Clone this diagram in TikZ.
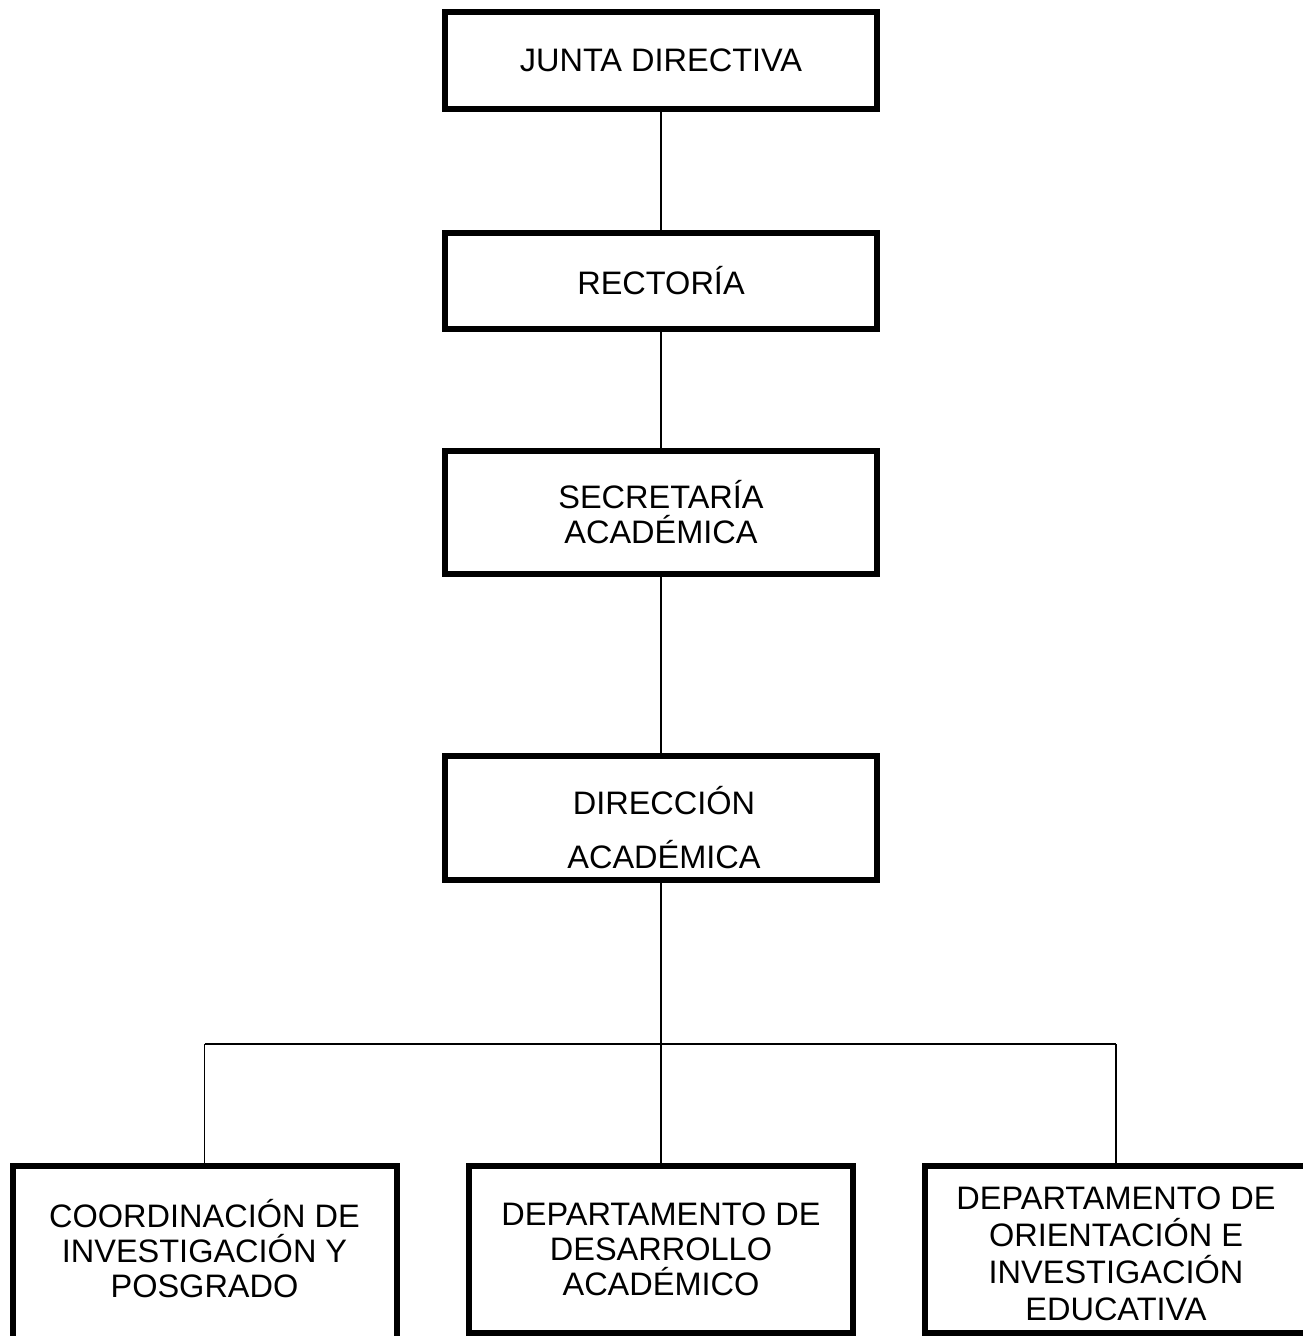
\documentclass[tikz,border=0pt]{standalone}
\usepackage{fontspec}
\setmainfont{Liberation Sans}
\begin{document}
\begin{tikzpicture}[x=1pt,y=-1pt,
  orgfont/.style={font=\fontsize{32.5}{35}\selectfont},
  orgbox/.style={draw=black,line width=6pt,fill=white,rectangle,inner sep=0pt,
    align=center,orgfont},
  orgtext/.style={align=center,inner sep=0pt,orgfont},
  link/.style={draw=black,line width=1.5pt}]
\useasboundingbox (0,0) rectangle (1303,1336);
\clip (0,0) rectangle (1303,1336);

% upper chain of offices
\node[orgbox,minimum width=432pt,minimum height=97pt] (jd) at (661,60.5) {JUNTA DIRECTIVA};
\node[orgbox,minimum width=432pt,minimum height=96pt] (rec) at (661,281) {RECTORÍA};
\node[orgbox,minimum width=432pt,minimum height=123pt] (sec) at (661,512.5) {SECRETARÍA\\ACADÉMICA};
\node[orgbox,minimum width=432pt,minimum height=124pt] (dir) at (661,818) {};
\node[orgtext] (dirtxt) at (664,828) {DIRECCIÓN\\[19pt]ACADÉMICA};

% lower row of units
\node[orgbox,minimum width=384pt,minimum height=176pt] (coord) at (204.5,1254) {};
\node[orgtext] (coordtxt) at (204.5,1249) {COORDINACIÓN DE\\INVESTIGACIÓN Y\\POSGRADO};
\node[orgbox,minimum width=384pt,minimum height=167pt] (dda) at (661,1249.5) {DEPARTAMENTO DE\\DESARROLLO\\ACADÉMICO};
\node[orgbox,minimum width=382pt,minimum height=167pt] (doie) at (1116,1249.5) {};
\node[orgtext,font=\fontsize{32.5}{37}\selectfont] (doietxt) at (1116,1254) {DEPARTAMENTO DE\\ORIENTACIÓN E\\INVESTIGACIÓN\\EDUCATIVA};

% distribution bar
\coordinate (busl) at (204.5,1044);
\coordinate (busc) at (661,1044);
\coordinate (busr) at (1116,1044);

\draw[link] (jd.south) -- (rec.north);
\draw[link] (rec.south) -- (sec.north);
\draw[link] (sec.south) -- (dir.north);
\draw[link] (dir.south) -- (busc);
\draw[link] (busl) -- (busr);
\draw[link] (busl) -- (coord.north);
\draw[link] (busc) -- (dda.north);
\draw[link] (busr) -- (doie.north);
\end{tikzpicture}
\end{document}
